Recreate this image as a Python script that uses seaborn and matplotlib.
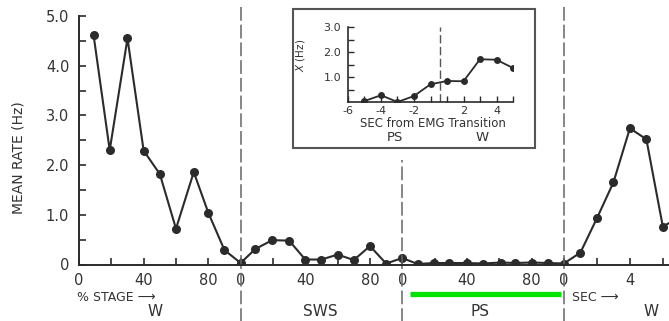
import matplotlib
matplotlib.use("Agg")
import matplotlib.pyplot as plt
from matplotlib.patches import Rectangle
import numpy as np
import pandas as pd
import seaborn as sns

sns.set_style("white")
plt.rcParams['font.family'] = ['DejaVu Sans']

# ---------------- data ----------------
W_PCT = [9, 19, 30, 40, 50, 60, 71, 80, 90]
W_RATE = [4.62, 2.30, 4.55, 2.29, 1.82, 0.72, 1.86, 1.04, 0.29]
SWS_PCT = [0, 9, 19.5, 30, 40, 50, 60, 70, 80, 90]
SWS_RATE = [0.03, 0.31, 0.49, 0.48, 0.10, 0.10, 0.20, 0.09, 0.37, 0.02]
PS_PCT = [0, 9.5, 19.5, 29, 40, 50, 61, 70, 80, 90]
PS_RATE = [0.13, 0.01, 0.03, 0.03, 0.03, 0.02, 0.04, 0.03, 0.04, 0.03]
POST_SEC = [0, 1, 2, 3, 4, 5, 6, 7]
POST_RATE = [0.02, 0.24, 0.93, 1.65, 2.74, 2.52, 0.76, 0.96]

INSET_SEC = [-5, -4, -3, -2, -1, 1, 2, 3, 4, 5]
INSET_RATE = [0.04, 0.27, 0.00, 0.24, 0.71, 0.84, 0.83, 1.71, 1.69, 1.36]

STAGE_TICKS = ["0", "40", "80"]
SEC_TICKS = ["0", "4"]
INSET_TICKS = ["-6", "-4", "-2", "2", "4"]

# ---------------- layout helpers ----------------
OFF = {"W": 0, "SWS": 100, "PS": 200, "SEC": 300}
SEC_SCALE = 10.2  # axis units per second in post-PS segment

pos = ([OFF["W"] + p for p in W_PCT] + [OFF["SWS"] + p for p in SWS_PCT] +
       [OFF["PS"] + p for p in PS_PCT] + [OFF["SEC"] + SEC_SCALE * s for s in POST_SEC])
rate = W_RATE + SWS_RATE + PS_RATE + POST_RATE
df = pd.DataFrame({"pos": pos, "rate": rate})

ink = "#2b2b2b"
txt = "#333333"

fig = plt.figure(figsize=(6.69, 3.21), dpi=100)
W, H = 669, 321
ax = fig.add_axes([79 / W, (H - 264.5) / H, (W - 79) / W, 248.5 / H])

sns.lineplot(data=df, x="pos", y="rate", sort=False, estimator=None, ax=ax,
             color=ink, lw=1.5, marker="o", markersize=6.5, markeredgewidth=0)

ax.set_xlim(0, 365)
ax.set_ylim(0, 5)
for s in ["top", "right"]:
    ax.spines[s].set_visible(False)
for s in ["left", "bottom"]:
    ax.spines[s].set_color(ink)
    ax.spines[s].set_linewidth(1.4)

major = []
labels = []
for key in ["W", "SWS", "PS"]:
    for t in STAGE_TICKS:
        major.append(OFF[key] + int(t))
        labels.append(t)
for t in SEC_TICKS:
    major.append(OFF["SEC"] + SEC_SCALE * int(t))
    labels.append(t)
minor = [20, 60, 120, 160, 220, 260, OFF["SEC"] + 2 * SEC_SCALE, OFF["SEC"] + 6 * SEC_SCALE]
ax.set_xticks(major)
ax.set_xticklabels(labels)
ax.set_xticks(minor, minor=True)
ax.set_yticks([0, 1, 2, 3, 4, 5])
ax.set_yticklabels(["0", "1.0", "2.0", "3.0", "4.0", "5.0"])
ax.set_yticks(np.arange(0.5, 5, 1.0), minor=True)
ax.tick_params(axis="both", which="both", direction="in", length=5, width=1.2,
               color=ink, labelcolor=txt, labelsize=10.5)
ax.tick_params(axis="x", which="both", pad=6, bottom=True)
ax.tick_params(axis="y", which="both", pad=7, left=True)

ax.set_ylabel("MEAN RATE (Hz)", fontsize=10, color=txt)
ax.yaxis.set_label_coords(-0.0915, 0.43)

# section dividers (dashed)
xt = ax.get_xaxis_transform()
dash = (0, (9, 2.6))
for xv, top in [(100, 1.044), (200, 0.42), (300, 1.044)]:
    ax.plot([xv, xv], [-0.23, top], transform=xt, clip_on=False,
            color="#666666", lw=1.1, ls=dash)

# green bar under PS
ax.plot([204.7, 298], [-0.119, -0.119], transform=xt, clip_on=False,
        color="#00e400", lw=3.8, solid_capstyle="butt")

# bottom texts
ax.text(-1, -0.131, "% STAGE \u27f6", transform=xt, ha="left", va="center",
        fontsize=9, color=txt)
ax.text(47, -0.19, "W", transform=xt, ha="center", va="center", fontsize=11, color=txt)
ax.text(149, -0.19, "SWS", transform=xt, ha="center", va="center", fontsize=11, color=txt)
ax.text(248, -0.19, "PS", transform=xt, ha="center", va="center", fontsize=11, color=txt)
ax.text(305, -0.131, "SEC \u27f6", transform=xt, ha="left", va="center",
        fontsize=9, color=txt)
ax.text(353.7, -0.19, "W", transform=xt, ha="center", va="center", fontsize=11, color=txt)

# ---------------- inset ----------------
fig.patches.append(Rectangle((293 / W, (H - 148) / H), (535 - 293) / W, (148 - 9) / H,
                             transform=fig.transFigure, fill=False, ec="#555555", lw=1.5))

ax2 = fig.add_axes([348 / W, (H - 102) / H, 165 / W, 75 / H])
ax2.patch.set_alpha(0)
idx = [s + 6 if s < 0 else s + 5 for s in INSET_SEC]
dfi = pd.DataFrame({"idx": idx, "rate": INSET_RATE})
sns.lineplot(data=dfi, x="idx", y="rate", sort=False, estimator=None, ax=ax2,
             color=ink, lw=1.3, marker="o", markersize=5, markeredgewidth=0)
ax2.set_xlim(0, 10)
ax2.set_ylim(0, 3)
for s in ["top", "right"]:
    ax2.spines[s].set_visible(False)
for s in ["left", "bottom"]:
    ax2.spines[s].set_color(ink)
    ax2.spines[s].set_linewidth(1.2)
ax2.set_xticks([int(t) + 6 if int(t) < 0 else int(t) + 5 for t in INSET_TICKS])
ax2.set_xticklabels(INSET_TICKS)
ax2.set_xticks(range(0, 11), minor=True)
ax2.set_yticks([1, 2, 3])
ax2.set_yticklabels(["1.0", "2.0", "3.0"])
ax2.set_yticks(np.arange(0.5, 3, 0.5), minor=True)
ax2.tick_params(axis="both", which="both", direction="in", length=4, width=1.0,
                color=ink, labelcolor=txt, labelsize=8)
ax2.tick_params(axis="x", which="both", pad=3, bottom=True)
ax2.tick_params(axis="y", which="both", pad=5, left=True)
ax2.axvline(5.55, ymin=0.0, ymax=1.0, color="#555555", lw=1.0, ls=(0, (6, 2.5)))
ax2.set_xlabel("")
ax2.set_ylabel(r"$\overline{X}$ (Hz)", fontsize=7.5, color=txt)
ax2.yaxis.set_label_coords(-0.242, 0.627)
ax2.text(5.15, -0.293, "SEC from EMG Transition", transform=ax2.get_xaxis_transform(),
         ha="center", va="center", fontsize=8.5, color=txt)
ax2.text(2.85, -0.467, "PS", transform=ax2.get_xaxis_transform(),
         ha="center", va="center", fontsize=9.5, color=txt)
ax2.text(8.1, -0.467, "W", transform=ax2.get_xaxis_transform(),
         ha="center", va="center", fontsize=9.5, color=txt)

ax.set_xlabel("")
fig.savefig("out.png", dpi=100)
